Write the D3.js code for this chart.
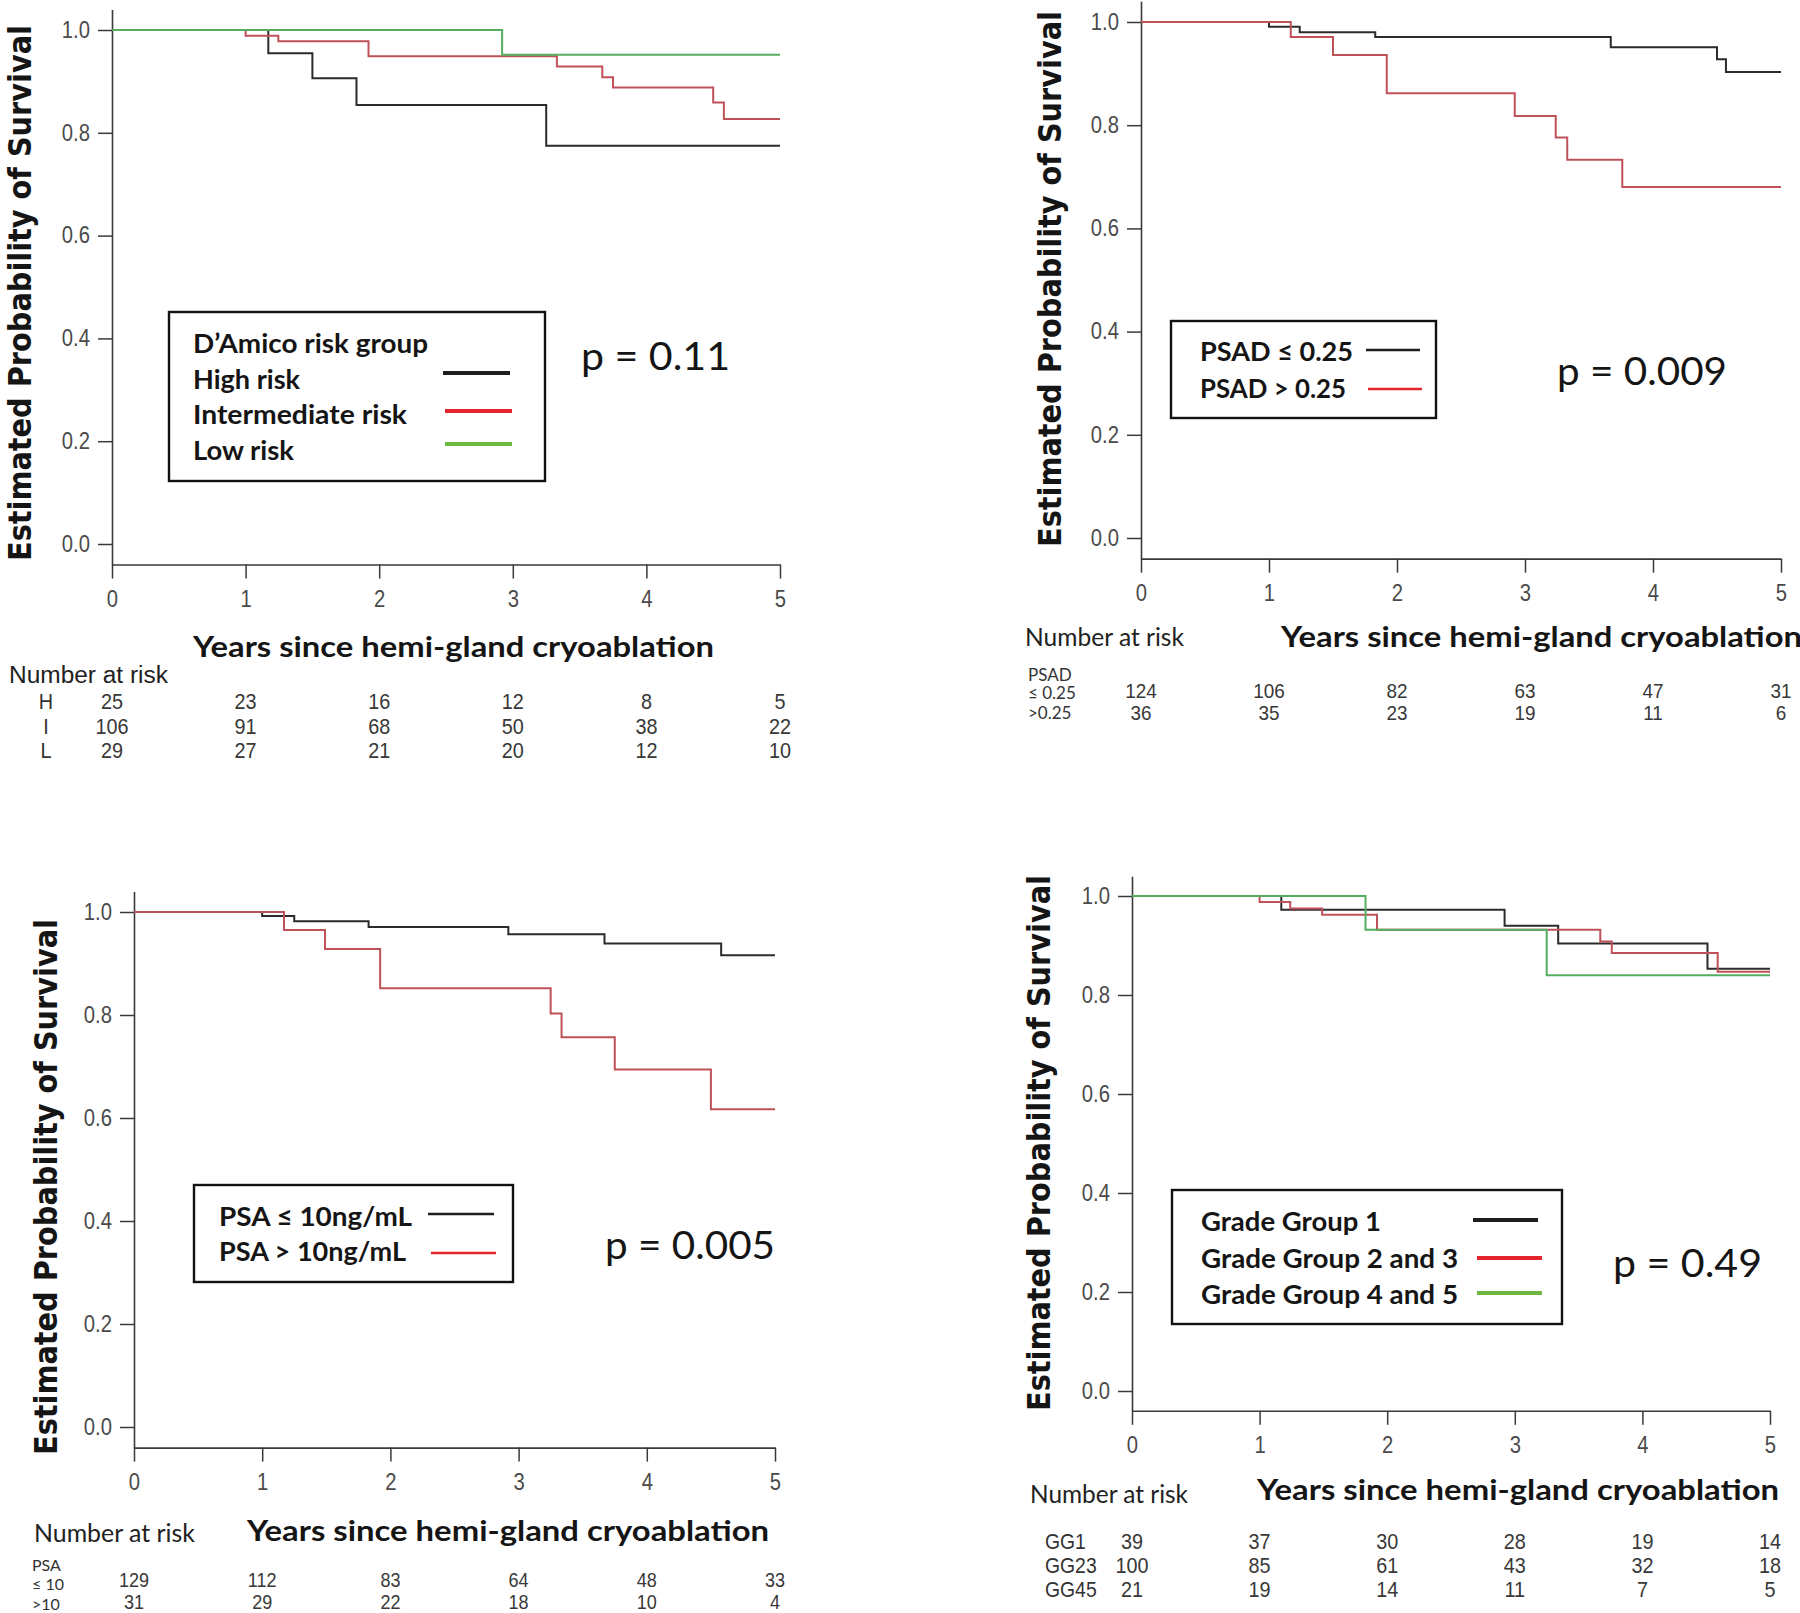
<!DOCTYPE html>
<html>
<head>
<meta charset="utf-8">
<script src="https://cdn.jsdelivr.net/npm/d3@7"></script>
<style>
  body { margin: 0; background: #fff; }
  svg { display: block; }
</style>
</head>
<body>
<svg id="chart" width="1800" height="1613"></svg>
<script>
// ================= DATA =================
const years = [0, 1, 2, 3, 4, 5];
const yTicks = [0, 0.2, 0.4, 0.6, 0.8, 1.0];
const xTitle = "Years since hemi-gland cryoablation";
const yTitle = "Estimated Probability of Survival";
const riskTitle = "Number at risk";

// Panel A – D'Amico risk group
const damicoTitle = "D\u2019Amico risk group";
const damicoNames = ["High risk", "Intermediate risk", "Low risk"];
const damicoRowLabels = ["H", "I", "L"];
const highTimes = [0, 1.17, 1.50, 1.83, 3.25, 5];
const highSurv  = [1, 0.955, 0.906, 0.854, 0.775, 0.775];
const interTimes = [0, 1.00, 1.245, 1.92, 3.33, 3.67, 3.75, 4.50, 4.58, 5];
const interSurv  = [1, 0.989, 0.978, 0.949, 0.929, 0.908, 0.888, 0.859, 0.827, 0.827];
const lowTimes = [0, 2.92, 5];
const lowSurv  = [1, 0.952, 0.952];
const highRisk  = [25, 23, 16, 12, 8, 5];
const interRisk = [106, 91, 68, 50, 38, 22];
const lowRisk   = [29, 27, 21, 20, 12, 10];
const damicoP = "p = 0.11";

// Panel B – PSAD
const psadNames = ["PSAD \u2264 0.25", "PSAD > 0.25"];
const psadRowLabels = ["PSAD", "\u2264 0.25", ">0.25"];
const psadLowTimes = [0, 1.00, 1.24, 1.83, 3.67, 4.50, 4.57, 5];
const psadLowSurv  = [1, 0.991, 0.980, 0.971, 0.951, 0.928, 0.903, 0.903];
const psadHighTimes = [0, 1.17, 1.50, 1.92, 2.92, 3.24, 3.33, 3.76, 5];
const psadHighSurv  = [1, 0.971, 0.936, 0.862, 0.818, 0.776, 0.733, 0.680, 0.680];
const psadLowRisk  = [124, 106, 82, 63, 47, 31];
const psadHighRisk = [36, 35, 23, 19, 11, 6];
const psadP = "p = 0.009";

// Panel C – PSA
const psaNames = ["PSA \u2264 10ng/mL", "PSA > 10ng/mL"];
const psaRowLabels = ["PSA", "\u2264 10", ">10"];
const psaLowTimes = [0, 1.00, 1.25, 1.83, 2.92, 3.67, 4.58, 5];
const psaLowSurv  = [1, 0.992, 0.982, 0.971, 0.957, 0.939, 0.916, 0.916];
const psaHighTimes = [0, 1.17, 1.49, 1.92, 3.25, 3.335, 3.75, 4.50, 5];
const psaHighSurv  = [1, 0.965, 0.928, 0.852, 0.803, 0.757, 0.694, 0.617, 0.617];
const psaLowRisk  = [129, 112, 83, 64, 48, 33];
const psaHighRisk = [31, 29, 22, 18, 10, 4];
const psaP = "p = 0.005";

// Panel D – Grade group
const ggNames = ["Grade Group 1", "Grade Group 2 and 3", "Grade Group 4 and 5"];
const ggRowLabels = ["GG1", "GG23", "GG45"];
const gg1Times = [0, 1.17, 2.92, 3.34, 4.51, 5];
const gg1Surv  = [1, 0.972, 0.940, 0.904, 0.853, 0.853];
const gg23Times = [0, 1.00, 1.24, 1.49, 1.92, 3.67, 3.76, 4.59, 5];
const gg23Surv  = [1, 0.988, 0.975, 0.962, 0.932, 0.908, 0.885, 0.847, 0.847];
const gg45Times = [0, 1.83, 3.25, 5];
const gg45Surv  = [1, 0.932, 0.840, 0.840];
const gg1Risk  = [39, 37, 30, 28, 19, 14];
const gg23Risk = [100, 85, 61, 43, 32, 18];
const gg45Risk = [21, 19, 14, 11, 7, 5];
const ggP = "p = 0.49";

// ================= STYLE =================
const C = {
  curveBlack: "#2b2b2b", curveRed: "#bf5159", curveGreen: "#55ad60",
  legBlack: "#1e1e1e", legRed: "#e3262b", legGreen: "#6db842",
  axis: "#3a3a3a", tickText: "#4a4a4a", num: "#383838", title: "#151515"
};
const F = {
  tick: "'Liberation Sans', Arial, sans-serif",
  cal: "Lato, 'Open Sans', sans-serif",
  verd: "'DejaVu Sans', Verdana, sans-serif"
};

const svg = d3.select("#chart");
svg.append("rect").attr("width", 1800).attr("height", 1613).attr("fill", "#fff");

function fitW(sel, w) {
  sel.attr("textLength", w).attr("lengthAdjust", "spacingAndGlyphs");
  return sel;
}
function squeeze(sel, k) {
  sel.each(function () {
    const w = this.getComputedTextLength();
    d3.select(this).attr("textLength", w * k).attr("lengthAdjust", "spacingAndGlyphs");
  });
  return sel;
}
function zip(t, s) { return t.map((d, i) => [d, s[i]]); }

function drawPanel(cfg) {
  const g = svg.append("g");
  const span = cfg.y0 - cfg.y1;
  const x = d3.scaleLinear().domain([0, 5]).range([cfg.x0, cfg.x5]);
  const y = d3.scaleLinear().domain([-0.04, 1.04])
    .range([cfg.y0 + 0.04 * span, cfg.y1 - 0.04 * span]);

  // y axis
  const ya = g.append("g").attr("transform", `translate(${cfg.x0},0)`)
    .call(d3.axisLeft(y).tickValues(yTicks).tickSize(14).tickSizeOuter(0)
      .tickPadding(8).tickFormat(d3.format(".1f")));
  // x axis
  const xa = g.append("g").attr("transform", `translate(0,${y(-0.04)})`)
    .call(d3.axisBottom(x).tickValues(years).tickSize(14).tickSizeOuter(0)
      .tickPadding(12).tickFormat(d3.format("d")));
  [ya, xa].forEach(a => {
    a.select(".domain").attr("stroke", C.axis).attr("stroke-width", 1.6);
    a.selectAll(".tick line").attr("stroke", C.axis).attr("stroke-width", 1.5);
    squeeze(a.selectAll(".tick text").attr("fill", C.tickText)
      .style("font-family", F.tick).style("font-size", "23px"), 0.88);
  });

  // curves
  const line = d3.line().x(d => x(d[0])).y(d => y(d[1])).curve(d3.curveStepAfter);
  cfg.series.forEach(s => {
    g.append("path").datum(zip(s.t, s.s)).attr("d", line)
      .attr("fill", "none").attr("stroke", s.c).attr("stroke-width", 2);
  });

  // y title
  fitW(g.append("text")
    .attr("transform", `translate(${cfg.ylab.x},${cfg.ylab.y}) rotate(-90) scale(1,1.1)`)
    .attr("text-anchor", "middle")
    .style("font-family", F.verd).style("font-weight", "bold").style("font-size", "29px")
    .attr("fill", C.title).text(yTitle), 536);

  // x title
  fitW(g.append("text").attr("x", cfg.xt.x).attr("y", cfg.xt.y)
    .style("font-family", F.cal).style("font-weight", "bold").style("font-size", "29px")
    .attr("fill", C.title).text(xTitle), cfg.xt.w);

  // Number at risk
  fitW(g.append("text").attr("x", cfg.nar.x).attr("y", cfg.nar.y)
    .style("font-family", cfg.nar.font).style("font-size", cfg.nar.size + "px")
    .attr("fill", "#222").text(riskTitle), cfg.nar.w);

  // risk table numbers
  cfg.risk.forEach((row, i) => {
    squeeze(g.selectAll(null).data(row).join("text")
      .attr("x", (d, j) => x(years[j])).attr("y", cfg.riskY[i])
      .attr("text-anchor", "middle")
      .style("font-family", F.tick).style("font-size", cfg.numSize + "px")
      .attr("fill", C.num).text(d => d), 0.9);
  });
  // row labels
  cfg.rowLabels.forEach(r => {
    const t = g.append("text").attr("x", r.x).attr("y", r.y)
      .attr("text-anchor", r.anchor || "start")
      .style("font-family", r.font).style("font-size", r.size + "px")
      .attr("fill", "#333").text(r.t);
    if (r.k) squeeze(t, r.k);
  });

  // legend box
  const L = cfg.legend;
  g.append("rect").attr("x", L.x).attr("y", L.y).attr("width", L.w).attr("height", L.h)
    .attr("fill", "#fff").attr("stroke", "#111").attr("stroke-width", 2.4);
  L.items.forEach(it => {
    fitW(g.append("text").attr("x", it.x).attr("y", it.y)
      .style("font-family", F.cal).style("font-weight", "bold").style("font-size", L.fs + "px")
      .attr("fill", "#151515").text(it.t), it.w);
    if (it.line) {
      g.append("line").attr("x1", it.line[0]).attr("x2", it.line[1])
        .attr("y1", it.line[2]).attr("y2", it.line[2])
        .attr("stroke", it.c).attr("stroke-width", L.lw);
    }
  });

  // p value
  fitW(g.append("text").attr("x", cfg.p.x).attr("y", cfg.p.y)
    .style("font-family", F.cal).style("font-size", "38px")
    .attr("fill", "#151515").text(cfg.p.t), cfg.p.w);
}

// ---------- Panel A ----------
drawPanel({
  x0: 112, x5: 780, y1: 30, y0: 544,
  ylab: { x: 31, y: 293 },
  xt: { x: 193, y: 657, w: 521 },
  nar: { x: 9, y: 683, w: 159, font: F.tick, size: 23 },
  series: [
    { t: highTimes, s: highSurv, c: C.curveBlack },
    { t: interTimes, s: interSurv, c: C.curveRed },
    { t: lowTimes, s: lowSurv, c: C.curveGreen }
  ],
  risk: [highRisk, interRisk, lowRisk], numSize: 22,
  riskY: [709, 734, 758],
  rowLabels: damicoRowLabels.map((t, i) => ({ t, x: 46, y: [709, 734, 758][i], anchor: "middle", font: F.tick, size: 22, k: 0.9 })),
  legend: {
    x: 169, y: 312, w: 376, h: 169, fs: 26, lw: 4,
    items: [
      { t: damicoTitle, x: 193, y: 353, w: 235 },
      { t: damicoNames[0], x: 193, y: 389, w: 107, line: [443, 510, 373], c: C.legBlack },
      { t: damicoNames[1], x: 193, y: 424, w: 214, line: [445, 512, 411], c: C.legRed },
      { t: damicoNames[2], x: 193, y: 460, w: 101, line: [445, 512, 444], c: C.legGreen }
    ]
  },
  p: { t: damicoP, x: 581, y: 370, w: 149 }
});

// ---------- Panel B ----------
drawPanel({
  x0: 1141, x5: 1781, y1: 22, y0: 538,
  ylab: { x: 1061, y: 279 },
  xt: { x: 1281, y: 647, w: 521 },
  nar: { x: 1025, y: 646, w: 159, font: F.cal, size: 25 },
  series: [
    { t: psadLowTimes, s: psadLowSurv, c: C.curveBlack },
    { t: psadHighTimes, s: psadHighSurv, c: C.curveRed }
  ],
  risk: [psadLowRisk, psadHighRisk], numSize: 21,
  riskY: [698, 720],
  rowLabels: psadRowLabels.map((t, i) => ({ t, x: 1028, y: [681, 699, 719][i], font: F.cal, size: 17 })),
  legend: {
    x: 1171, y: 321, w: 265, h: 97, fs: 26, lw: 2.6,
    items: [
      { t: psadNames[0], x: 1200, y: 361, w: 153, line: [1366, 1420, 350], c: C.legBlack },
      { t: psadNames[1], x: 1200, y: 398, w: 146, line: [1368, 1422, 389], c: C.legRed }
    ]
  },
  p: { t: psadP, x: 1557, y: 385, w: 170 }
});

// ---------- Panel C ----------
drawPanel({
  x0: 134, x5: 775, y1: 912, y0: 1427,
  ylab: { x: 57, y: 1187 },
  xt: { x: 247, y: 1541, w: 522 },
  nar: { x: 34, y: 1542, w: 161, font: F.cal, size: 25 },
  series: [
    { t: psaLowTimes, s: psaLowSurv, c: C.curveBlack },
    { t: psaHighTimes, s: psaHighSurv, c: C.curveRed }
  ],
  risk: [psaLowRisk, psaHighRisk], numSize: 20,
  riskY: [1587, 1609],
  rowLabels: psaRowLabels.map((t, i) => ({ t, x: 32, y: [1571, 1590, 1610][i], font: F.cal, size: 16 })),
  legend: {
    x: 194, y: 1185, w: 319, h: 97, fs: 26, lw: 2.6,
    items: [
      { t: psaNames[0], x: 219, y: 1226, w: 193, line: [428, 494, 1214], c: C.legBlack },
      { t: psaNames[1], x: 219, y: 1261, w: 187, line: [431, 496, 1253], c: C.legRed }
    ]
  },
  p: { t: psaP, x: 605, y: 1259, w: 170 }
});

// ---------- Panel D ----------
drawPanel({
  x0: 1132, x5: 1770, y1: 896, y0: 1391,
  ylab: { x: 1050, y: 1143 },
  xt: { x: 1257, y: 1500, w: 522 },
  nar: { x: 1030, y: 1503, w: 158, font: F.cal, size: 25 },
  series: [
    { t: gg1Times, s: gg1Surv, c: C.curveBlack },
    { t: gg23Times, s: gg23Surv, c: C.curveRed },
    { t: gg45Times, s: gg45Surv, c: C.curveGreen }
  ],
  risk: [gg1Risk, gg23Risk, gg45Risk], numSize: 22,
  riskY: [1549, 1573, 1597],
  rowLabels: ggRowLabels.map((t, i) => ({ t, x: 1045, y: [1549, 1573, 1597][i], font: F.tick, size: 22, k: 0.88 })),
  legend: {
    x: 1172, y: 1190, w: 390, h: 134, fs: 26, lw: 4,
    items: [
      { t: ggNames[0], x: 1201, y: 1231, w: 180, line: [1473, 1538, 1220], c: C.legBlack },
      { t: ggNames[1], x: 1201, y: 1268, w: 257, line: [1477, 1542, 1258], c: C.legRed },
      { t: ggNames[2], x: 1201, y: 1304, w: 257, line: [1477, 1542, 1293], c: C.legGreen }
    ]
  },
  p: { t: ggP, x: 1613, y: 1277, w: 149 }
});
</script>
</body>
</html>
